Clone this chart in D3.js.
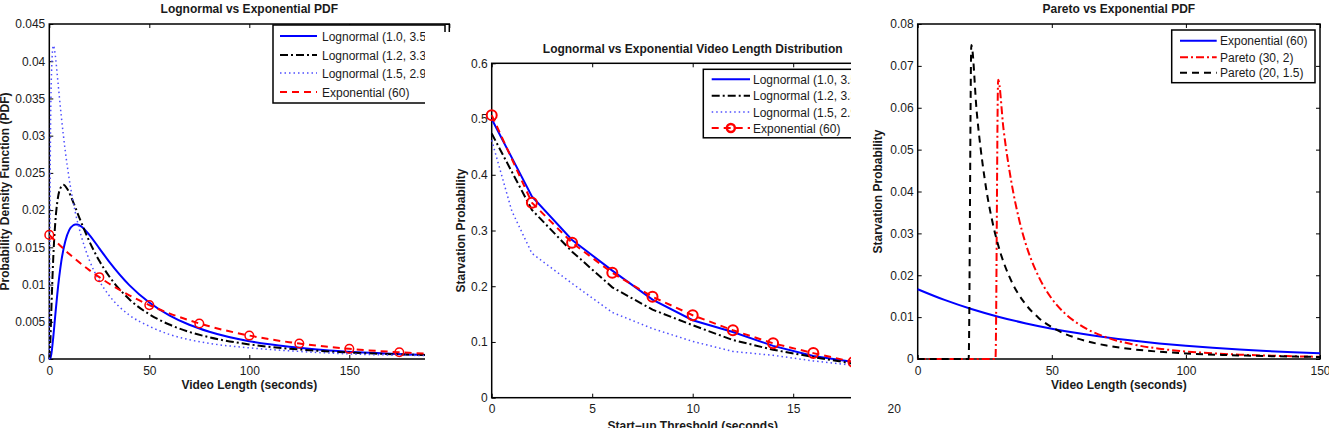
<!DOCTYPE html>
<html>
<head>
<meta charset="utf-8">
<script src="https://cdn.jsdelivr.net/npm/d3@7"></script>
<style>
body { margin: 0; background: #fff; }
svg text { font-family: "Liberation Sans", Arial, sans-serif; fill: #1a1a1a; }
</style>
</head>
<body>
<svg width="1329" height="428"></svg>
<script>
// ---- panel 1 : lognormal vs exponential pdf ----
var logn10X = [0, 0.5, 1, 2, 3, 4, 6, 8, 10, 12, 13, 14, 16, 20, 25, 30, 40, 50, 60, 70, 80, 100, 120, 140, 160, 180, 200];
var logn10Y = [0, 0.00008, 0.00063, 0.00297, 0.00591, 0.00872, 0.01311, 0.01583, 0.01734, 0.01797, 0.01807, 0.01806, 0.0178, 0.01668, 0.01487, 0.01305, 0.00993, 0.00759, 0.00587, 0.0046, 0.00366, 0.00239, 0.00163, 0.00115, 0.00083, 0.00062, 0.00047];
var logn12X = [0, 0.5, 1, 2, 3, 4, 5, 7, 9, 12, 15, 20, 25, 30, 40, 50, 60, 70, 80, 100, 120, 140, 160, 180, 200];
var logn12Y = [0, 0.00213, 0.00638, 0.0137, 0.01836, 0.02108, 0.02254, 0.02339, 0.02284, 0.02105, 0.019, 0.01582, 0.01319, 0.01108, 0.00803, 0.00601, 0.00463, 0.00364, 0.00292, 0.00196, 0.00139, 0.00101, 0.00076, 0.00059, 0.00046];
var logn15X = [0, 0.25, 0.5, 1, 2, 3, 4, 6, 8, 10, 13, 16, 20, 25, 30, 40, 50, 60, 70, 80, 100, 120, 140, 160, 180, 200];
var logn15Y = [0, 0.0157, 0.027, 0.0375, 0.0421, 0.0408, 0.0381, 0.0326, 0.0279, 0.0241, 0.0197, 0.0165, 0.0133, 0.0105, 0.0085, 0.0059, 0.0044, 0.0033, 0.0026, 0.0021, 0.0015, 0.0011, 0.0008, 0.0006, 0.0005, 0.0004];
var expoX = [0, 10, 20, 25, 30, 40, 50, 60, 75, 80, 100, 120, 125, 140, 150, 160, 175, 180, 200];
var expoY = [0.016667, 0.014107, 0.011942, 0.010989, 0.010109, 0.008557, 0.007243, 0.006131, 0.004775, 0.004394, 0.003148, 0.002256, 0.002076, 0.001616, 0.001368, 0.001158, 0.000904, 0.00083, 0.000595];
var expoMarkX = [0, 25, 50, 75, 100, 125, 150, 175, 200];
var p1XTicks = [0, 50, 100, 150, 200];
var p1YTicks = [0, 0.005, 0.01, 0.015, 0.02, 0.025, 0.03, 0.035, 0.04, 0.045];

// ---- panel 2 : starvation probability vs start-up threshold ----
var thrX = [0, 2, 4, 6, 8, 10, 12, 14, 16, 18, 20];
var starv10 = [0.50, 0.361, 0.283, 0.228, 0.176, 0.139, 0.118, 0.093, 0.075, 0.064, 0.056];
var starv12 = [0.474, 0.337, 0.262, 0.198, 0.158, 0.130, 0.1035, 0.086, 0.073, 0.061, 0.052];
var starv15X = [0, 1, 2, 4, 6, 8, 10, 12, 14, 16, 18, 20];
var starv15 = [0.462, 0.335, 0.259, 0.205, 0.153, 0.124, 0.101, 0.083, 0.076, 0.066, 0.058, 0.052];
var starvExp = [0.507, 0.350, 0.278, 0.224, 0.181, 0.148, 0.121, 0.0976, 0.080, 0.064, 0.053];
var p2XTicks = [0, 5, 10, 15, 20];
var p2YTicks = [0, 0.1, 0.2, 0.3, 0.4, 0.5, 0.6];

// ---- panel 3 : pareto vs exponential pdf ----
var exp3X = [0, 10, 20, 30, 40, 50, 60, 70, 80, 90, 100, 110, 120, 130, 140, 150];
var exp3Y = [0.016667, 0.014107, 0.011942, 0.010109, 0.008557, 0.007243, 0.006131, 0.00519, 0.004394, 0.003719, 0.003148, 0.002665, 0.002256, 0.00191, 0.001616, 0.001368];
var par30X = [0, 29, 30, 32, 35, 38, 40, 45, 50, 55, 60, 70, 80, 90, 100, 110, 120, 135, 150];
var par30Y = [0, 0, 0.0667, 0.0549, 0.042, 0.0328, 0.0281, 0.0198, 0.0144, 0.01082, 0.00833, 0.00525, 0.00352, 0.00247, 0.0018, 0.00135, 0.00104, 0.00073, 0.00053];
var par20X = [0, 19, 20, 22, 25, 28, 30, 35, 40, 45, 50, 60, 70, 80, 90, 100, 120, 135, 150];
var par20Y = [0, 0, 0.075, 0.0591, 0.0429, 0.03234, 0.02722, 0.01851, 0.01326, 0.00988, 0.00759, 0.00481, 0.00327, 0.00234, 0.001746, 0.00134, 0.00085, 0.000634, 0.000487];
var p3XTicks = [0, 50, 100, 150];
var p3YTicks = [0, 0.01, 0.02, 0.03, 0.04, 0.05, 0.06, 0.07, 0.08];

// line styles (matlab-ish)
var blueSolid = {color: '#0000ff', width: 2, dash: null};
var blackDashDot = {color: '#000', width: 2, dash: '8,3,2,3'};
var blueDotted = {color: '#4d4dff', width: 1.5, dash: '1.5,3'};
var redDashed = {color: '#ff0000', width: 2, dash: '7,5'};
var redDashDot = {color: '#ff0000', width: 2, dash: '8,3,2,3'};
var blackDashed = {color: '#000', width: 2, dash: '7,5'};

var svg = d3.select('svg');
var fmt = d3.format('~g');

function zip(xs, ys) {
    return xs.map(function (x, i) { return [x, ys[i]]; });
}

// draws one matlab style axes box, returns scales + group
function makeAxes(cfg) {
    var g = svg.append('g');
    if (cfg.bg) {
        g.append('rect').attr('x', cfg.bg[0]).attr('y', cfg.bg[1])
            .attr('width', cfg.bg[2]).attr('height', cfg.bg[3]).attr('fill', '#fff');
    }
    var x = d3.scaleLinear().domain(cfg.xDomain).range([cfg.left, cfg.right]);
    var y = d3.scaleLinear().domain(cfg.yDomain).range([cfg.bottom, cfg.top]);

    var bottom = g.append('g').attr('transform', 'translate(0,' + cfg.bottom + ')')
        .call(d3.axisBottom(x).tickValues(cfg.xTicks).tickFormat(fmt).tickSizeInner(-4).tickSizeOuter(0).tickPadding(7));
    var left = g.append('g').attr('transform', 'translate(' + cfg.left + ',0)')
        .call(d3.axisLeft(y).tickValues(cfg.yTicks).tickFormat(fmt).tickSizeInner(-4).tickSizeOuter(0).tickPadding(4));
    var top = g.append('g').attr('transform', 'translate(0,' + cfg.top + ')')
        .call(d3.axisTop(x).tickValues(cfg.xTicks).tickFormat('').tickSizeInner(-4).tickSizeOuter(0));
    var right = g.append('g').attr('transform', 'translate(' + cfg.right + ',0)')
        .call(d3.axisRight(y).tickValues(cfg.yTicks).tickFormat('').tickSizeInner(-4).tickSizeOuter(0));
    [bottom, left, top, right].forEach(function (a) {
        a.select('.domain').remove();
        a.selectAll('line').attr('stroke', '#000').attr('stroke-width', 1);
        a.selectAll('text').attr('font-size', 12).attr('fill', '#1a1a1a').attr('font-family', null);
    });

    g.append('rect').attr('x', cfg.left).attr('y', cfg.top)
        .attr('width', cfg.right - cfg.left).attr('height', cfg.bottom - cfg.top)
        .attr('fill', 'none').attr('stroke', '#000').attr('stroke-width', 1.5);

    g.append('text').attr('x', (cfg.left + cfg.right) / 2).attr('y', cfg.titleY)
        .attr('text-anchor', 'middle').attr('font-size', 12).attr('font-weight', 'bold')
        .text(cfg.title);
    g.append('text').attr('x', (cfg.left + cfg.right) / 2).attr('y', cfg.xLabelY)
        .attr('text-anchor', 'middle').attr('font-size', 12).attr('font-weight', 'bold')
        .text(cfg.xLabel);
    g.append('text')
        .attr('transform', 'translate(' + cfg.yLabelX + ',' + (cfg.top + cfg.bottom) / 2 + ') rotate(-90)')
        .attr('text-anchor', 'middle').attr('font-size', 12).attr('font-weight', 'bold')
        .text(cfg.yLabel);

    var plot = g.append('g');
    return {g: g, plot: plot, x: x, y: y};
}

function drawLine(ax, pts, st, curve) {
    var line = d3.line()
        .x(function (d) { return ax.x(d[0]); })
        .y(function (d) { return ax.y(d[1]); })
        .curve(curve || d3.curveLinear);
    ax.plot.append('path').datum(pts)
        .attr('d', line).attr('fill', 'none')
        .attr('stroke', st.color).attr('stroke-width', st.width)
        .attr('stroke-dasharray', st.dash);
}

function drawMarkers(ax, pts, r, w) {
    ax.plot.selectAll(null).data(pts).enter().append('circle')
        .attr('cx', function (d) { return ax.x(d[0]); })
        .attr('cy', function (d) { return ax.y(d[1]); })
        .attr('r', r).attr('fill', 'none')
        .attr('stroke', '#ff0000').attr('stroke-width', w);
}

function legend(ax, box, rows, lx0, lx1, tx) {
    var lg = ax.g.append('g');
    lg.append('rect').attr('x', box[0]).attr('y', box[1]).attr('width', box[2]).attr('height', box[3])
        .attr('fill', '#fff').attr('stroke', '#000').attr('stroke-width', 1.5);
    rows.forEach(function (r) {
        lg.append('line').attr('x1', lx0).attr('x2', lx1).attr('y1', r.y).attr('y2', r.y)
            .attr('stroke', r.st.color).attr('stroke-width', r.st.width)
            .attr('stroke-dasharray', r.st.dash);
        if (r.marker) {
            lg.append('circle').attr('cx', (lx0 + lx1) / 2).attr('cy', r.y).attr('r', r.marker)
                .attr('fill', 'none').attr('stroke', '#ff0000').attr('stroke-width', 2.5);
        }
        lg.append('text').attr('x', tx).attr('y', r.y + 4.5).attr('font-size', 12).text(r.label);
    });
}

// ---------- panel 1 ----------
var ax1 = makeAxes({
    left: 49.3, right: 449.3, top: 24, bottom: 359,
    xDomain: [0, 200], yDomain: [0, 0.045], xTicks: p1XTicks, yTicks: p1YTicks,
    title: 'Lognormal vs Exponential PDF', titleY: 13,
    xLabel: 'Video Length (seconds)', xLabelY: 389,
    yLabel: 'Probability Density Function (PDF)', yLabelX: 9
});
drawLine(ax1, zip(logn10X, logn10Y), blueSolid, d3.curveMonotoneX);
drawLine(ax1, zip(logn12X, logn12Y), blackDashDot, d3.curveMonotoneX);
drawLine(ax1, zip(logn15X, logn15Y), blueDotted, d3.curveMonotoneX);
drawLine(ax1, zip(expoX, expoY), redDashed, d3.curveMonotoneX);
drawMarkers(ax1, zip(expoX, expoY).filter(function (d) { return expoMarkX.indexOf(d[0]) >= 0; }), 4.3, 1.5);
legend(ax1, [273, 25, 172, 78], [
    {label: 'Lognormal (1.0, 3.59)', y: 36, st: blueSolid},
    {label: 'Lognormal (1.2, 3.37)', y: 55, st: blackDashDot},
    {label: 'Lognormal (1.5, 2.97)', y: 73, st: blueDotted},
    {label: 'Exponential (60)', y: 92, st: redDashed}
], 280, 317, 322);

// ---------- panel 2 (its picture covers the right of panel 1) ----------
var ax2 = makeAxes({
    bg: [425, 32, 904, 396],
    left: 491.7, right: 893.7, top: 63.3, bottom: 397.7,
    xDomain: [0, 20], yDomain: [0, 0.6], xTicks: p2XTicks, yTicks: p2YTicks,
    title: 'Lognormal vs Exponential Video Length Distribution', titleY: 52.5,
    xLabel: 'Start\u2212up Threshold (seconds)', xLabelY: 430,
    yLabel: 'Starvation Probability', yLabelX: 465
});
drawLine(ax2, zip(thrX, starv10), blueSolid);
drawLine(ax2, zip(thrX, starv12), blackDashDot);
drawLine(ax2, zip(starv15X, starv15), blueDotted);
drawLine(ax2, zip(thrX, starvExp), redDashed);
drawMarkers(ax2, zip(thrX, starvExp), 5, 2);
legend(ax2, [703.3, 69.3, 172, 68.5], [
    {label: 'Lognormal (1.0, 3.59)', y: 79.3, st: blueSolid},
    {label: 'Lognormal (1.2, 3.37)', y: 95.7, st: blackDashDot},
    {label: 'Lognormal (1.5, 2.97)', y: 112, st: blueDotted},
    {label: 'Exponential (60)', y: 128, st: redDashed, marker: 4}
], 711.7, 750, 753);

// ---------- panel 3 (covers the right of panel 2) ----------
var ax3 = makeAxes({
    bg: [851, 0, 478, 402],
    left: 917.7, right: 1320, top: 24, bottom: 359,
    xDomain: [0, 150], yDomain: [0, 0.08], xTicks: p3XTicks, yTicks: p3YTicks,
    title: 'Pareto vs Exponential PDF', titleY: 13,
    xLabel: 'Video Length (seconds)', xLabelY: 389,
    yLabel: 'Starvation Probability', yLabelX: 882
});
drawLine(ax3, zip(exp3X, exp3Y), blueSolid, d3.curveMonotoneX);
drawLine(ax3, zip(par30X, par30Y), redDashDot, d3.curveMonotoneX);
drawLine(ax3, zip(par20X, par20Y), blackDashed, d3.curveMonotoneX);
legend(ax3, [1171.7, 30, 143.3, 52.7], [
    {label: 'Exponential (60)', y: 40.7, st: blueSolid},
    {label: 'Pareto (30, 2)', y: 57.3, st: redDashDot},
    {label: 'Pareto (20, 1.5)', y: 72.7, st: blackDashed}
], 1180, 1216.7, 1220);
</script>
</body>
</html>
